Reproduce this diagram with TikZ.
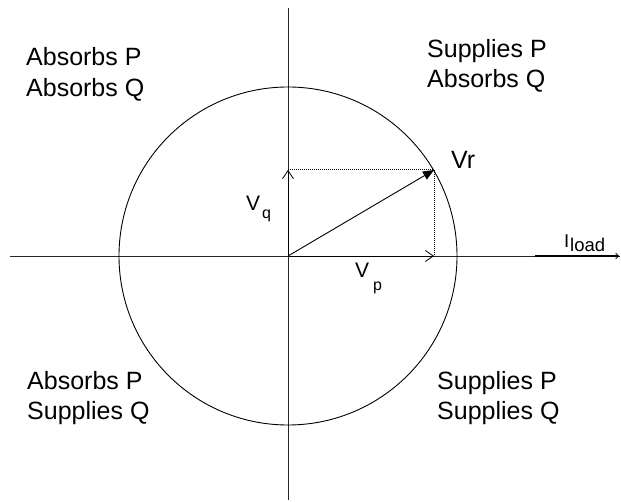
\documentclass[tikz,border=0pt]{standalone}
\usepackage{fontspec}
\setmainfont{Liberation Sans}
\usetikzlibrary{arrows.meta}
\begin{document}
\begin{tikzpicture}[x=1pt,y=-1pt,
  lbl/.style={inner sep=0pt,anchor=base west,font=\fontsize{25}{25}\selectfont},
  vlbl/.style={inner sep=0pt,anchor=base west,font=\fontsize{21}{21}\selectfont},
  sublbl/.style={inner sep=0pt,anchor=base west,font=\fontsize{16}{16}\selectfont},
  ilbl/.style={inner sep=0pt,anchor=base west,font=\fontsize{18.5}{18.5}\selectfont},
  axis/.style={line width=0.9pt,draw=black!85},
  vec/.style={line width=0.9pt,draw=black},
  openhead/.style={-{Straight Barb[length=8pt,width=11pt,line width=0.8pt]}},
  fillhead/.style={-{Triangle[length=11pt,width=9pt]}},
  proj/.style={line width=1pt,densely dotted}]
\useasboundingbox (0,0) rectangle (621,502);
% coordinates
\coordinate (O) at (288,256);
\coordinate (L) at (10,256);
\coordinate (Rt) at (620,256);
\coordinate (T) at (288,8);
\coordinate (B) at (288,500);
\coordinate (Q) at (288,170);
\coordinate (R) at (434,170);
\coordinate (P) at (434,256);
\coordinate (I0) at (535,256);
\coordinate (I1) at (619,256);
% axes and circle
\draw[axis] (L) -- (Rt);
\draw[axis] (T) -- (B);
\draw[line width=0.9pt] (O) circle[radius=169];
% projections
\draw[proj] (Q) -- (R);
\draw[proj] (R) -- (P);
% vectors
\draw[vec,openhead] (O) -- (Q);
\draw[vec,openhead] (O) -- (P);
\draw[vec,fillhead] (O) -- (R);
\draw[line width=1.3pt,-{Straight Barb[length=3pt,width=6pt,line width=0.7pt]}] (I0) -- (I1);
% quadrant labels
\node[lbl] (a1) at (26,66) {Absorbs P};
\node[lbl] (a2) at (26,97) {Absorbs Q};
\node[lbl] (b1) at (427,58) {Supplies P};
\node[lbl] (b2) at (427,88) {Absorbs Q};
\node[lbl] (c1) at (27,389) {Absorbs P};
\node[lbl] (c2) at (27,419) {Supplies Q};
\node[lbl] (d1) at (437,389) {Supplies P};
\node[lbl] (d2) at (437,419) {Supplies Q};
% vector labels
\node[lbl] (vr) at (451,169) {Vr};
\node[vlbl] (vq) at (246,211) {V};
\node[sublbl] (vqs) at (262,219) {q};
\node[vlbl] (vp) at (355,278) {V};
\node[sublbl] (vps) at (373,291) {p};
\node[ilbl] (il) at (564,248) {I};
\node[ilbl] (ils) at (570,252) {load};
\end{tikzpicture}
\end{document}
